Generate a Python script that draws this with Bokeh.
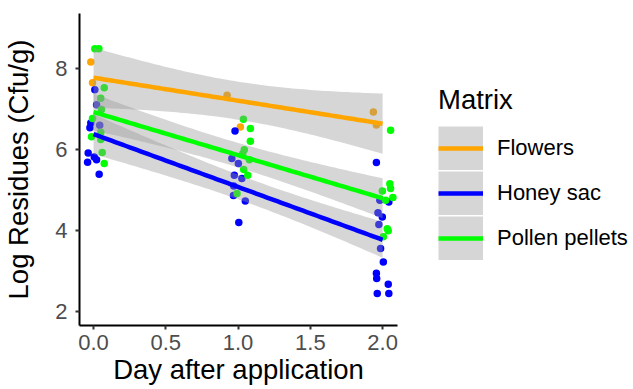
import math
import numpy as np
from bokeh.plotting import figure
from bokeh.layouts import row
from bokeh.models import Legend, LegendItem, Range1d, FixedTicker, PrintfTickFormatter, ColumnDataSource
from bokeh.embed import file_html
from bokeh.resources import INLINE

# ---------------- data ----------------
matrices = ["Flowers", "Honey sac", "Pollen pellets"]
colors = ["#FFA500", "#0000FF", "#00FF00"]

# jittered x position (days) and log residues for each matrix
flowers_x = [-0.019, -0.007, 0.924, 1.016, 1.936, 1.957]
flowers_y = [8.15, 7.64, 7.33, 6.55, 6.92, 6.60]

honey_x = [0.009, 0.021, -0.019, -0.025, 0.043, -0.037, 0.005, -0.041, 0.021, 0.039,
           0.979, 0.957, 1.002, 0.974, 1.026, 0.970, 0.968, 1.050, 1.005,
           1.957, 1.981, 2.043, 1.968, 1.998, 1.974, 1.986, 2.005, 1.957, 1.959, 2.039, 1.963, 2.043]
honey_y = [7.47, 7.10, 6.65, 6.53, 6.59, 5.91, 5.81, 5.68, 5.74, 5.38,
           6.45, 5.77, 5.65, 5.36, 5.28, 5.09, 4.86, 4.72, 4.19,
           5.67, 4.74, 4.70, 4.43, 4.33, 4.14, 3.55, 3.22, 2.94, 2.81, 2.67, 2.44, 2.44]

pollen_x = [0.009, 0.037, 0.074, 0.050, 0.055, -0.007, 0.050, -0.014, 0.050, 0.060, 0.074,
            1.037, 1.085, 1.085, 1.043, 1.032, 1.078, 1.039, 1.067, 0.993,
            2.055, 2.050, 2.055, 1.998, 2.071, 2.021, 2.032, 2.039, 2.005]
pollen_y = [8.48, 8.48, 7.52, 7.26, 6.98, 6.76, 6.42, 6.31, 6.24, 5.92, 5.65,
            6.74, 6.51, 6.20, 5.99, 5.89, 5.74, 5.50, 5.36, 4.91,
            6.47, 5.15, 5.03, 4.97, 4.81, 4.74, 4.04, 3.99, 3.84]

x_ticks = [0.0, 0.5, 1.0, 1.5, 2.0]
y_ticks = [2, 4, 6, 8]

series = [(flowers_x, flowers_y), (honey_x, honey_y), (pollen_x, pollen_y)]

FONT = "Liberation Sans"


def t_ppf975(df):
    c = math.exp(math.lgamma((df + 1) / 2) - math.lgamma(df / 2)) / math.sqrt(df * math.pi)

    def cdf(t):
        xs = np.linspace(0, t, 4001)
        pdf = c * (1 + xs ** 2 / df) ** (-(df + 1) / 2)
        return 0.5 + np.trapezoid(pdf, xs)

    lo, hi = 0.0, 20.0
    for _ in range(60):
        mid = (lo + hi) / 2
        if cdf(mid) < 0.975:
            lo = mid
        else:
            hi = mid
    return (lo + hi) / 2


def lm_fit(xj, y, grid):
    x = np.round(np.asarray(xj, dtype=float))  # nominal day
    y = np.asarray(y, dtype=float)
    n = len(x)
    xm = x.mean()
    sxx = ((x - xm) ** 2).sum()
    b = ((x - xm) * (y - y.mean())).sum() / sxx
    a = y.mean() - b * xm
    resid = y - (a + b * x)
    s = math.sqrt((resid ** 2).sum() / (n - 2))
    fit = a + b * grid
    se = s * np.sqrt(1 / n + (grid - xm) ** 2 / sxx)
    t = t_ppf975(n - 2)
    return fit, fit - t * se, fit + t * se


p = figure(width=400, height=389, output_backend="svg", toolbar_location=None,
           x_range=Range1d(-0.097, 2.103), y_range=Range1d(1.65, 9.35),
           min_border_left=78, min_border_right=3, min_border_top=13, min_border_bottom=64)
p.outline_line_color = None
p.xgrid.visible = False
p.ygrid.visible = False
p.background_fill_color = "white"
p.border_fill_color = "white"

# points first
for (xs, ys), col in zip(series, colors):
    p.scatter(xs, ys, size=7.5, fill_color=col, line_color=None, marker="circle")

grid = np.linspace(0, 2, 81)
for (xs, ys), col, name in zip(series, colors, matrices):
    fit, lo, hi = lm_fit(xs, ys, grid)
    src = ColumnDataSource(dict(x=grid, fit=fit, lo=lo, hi=hi))
    p.varea(x="x", y1="lo", y2="hi", source=src, fill_color="#999999", fill_alpha=0.4)
    p.line(x="x", y="fit", source=src, line_color=col, line_width=4.5)

# axes
for ax in (p.xaxis[0], p.yaxis[0]):
    ax.axis_line_color = "black"
    ax.axis_line_width = 2
    ax.major_tick_line_color = "#333333"
    ax.major_tick_line_width = 2
    ax.major_tick_out = 4
    ax.major_tick_in = 0
    ax.minor_tick_line_color = None
    ax.major_label_text_font = FONT
    ax.major_label_text_font_size = "22px"
    ax.major_label_text_color = "#4D4D4D"
    ax.axis_label_text_font = FONT
    ax.axis_label_text_font_size = "27.5px"
    ax.axis_label_text_font_style = "normal"
    ax.axis_label_text_color = "black"

p.xaxis[0].ticker = FixedTicker(ticks=x_ticks)
p.xaxis[0].formatter = PrintfTickFormatter(format="%.1f")
p.xaxis[0].axis_label = "Day after application"
p.xaxis[0].major_label_standoff = 5
p.xaxis[0].axis_label_standoff = 1

p.yaxis[0].ticker = FixedTicker(ticks=y_ticks)
p.yaxis[0].axis_label = "Log Residues (Cfu/g)"
p.yaxis[0].major_label_standoff = 8
p.yaxis[0].axis_label_standoff = 18

# ---------------- legend panel ----------------
p2 = figure(width=233, height=389, output_backend="svg", toolbar_location=None,
            x_range=Range1d(0, 1), y_range=Range1d(0, 1),
            x_axis_location=None, y_axis_location=None,
            min_border=0)
p2.outline_line_color = None
p2.xgrid.visible = False
p2.ygrid.visible = False
p2.background_fill_color = "white"
p2.border_fill_color = "white"

items = []
for col, name in zip(colors, matrices):
    # key renderers: data lie outside the visible range, only the legend keys show
    kb = p2.line(x=[5, 6], y=[5, 5], line_color="#999999", line_alpha=0.4,
                 line_width=44, line_cap="butt")
    kl = p2.line(x=[5, 6], y=[5, 5], line_color=col, line_width=4.5)
    items.append(LegendItem(label=name, renderers=[kb, kl]))

legend = Legend(items=items, title="Matrix", location=(38, 65))
legend.title_text_font = FONT
legend.title_text_font_size = "27.5px"
legend.title_text_font_style = "normal"
legend.title_text_color = "black"
legend.title_standoff = 10
legend.label_text_font = FONT
legend.label_text_font_size = "22px"
legend.label_text_color = "black"
legend.glyph_width = 45
legend.glyph_height = 44
legend.label_height = 44
legend.label_standoff = 14
legend.spacing = 1
legend.padding = 0
legend.margin = 0
legend.border_line_color = None
legend.background_fill_alpha = 0
p2.add_layout(legend, "center")

layout = row(p, p2)
open("out.html", "w").write(file_html(layout, INLINE))
